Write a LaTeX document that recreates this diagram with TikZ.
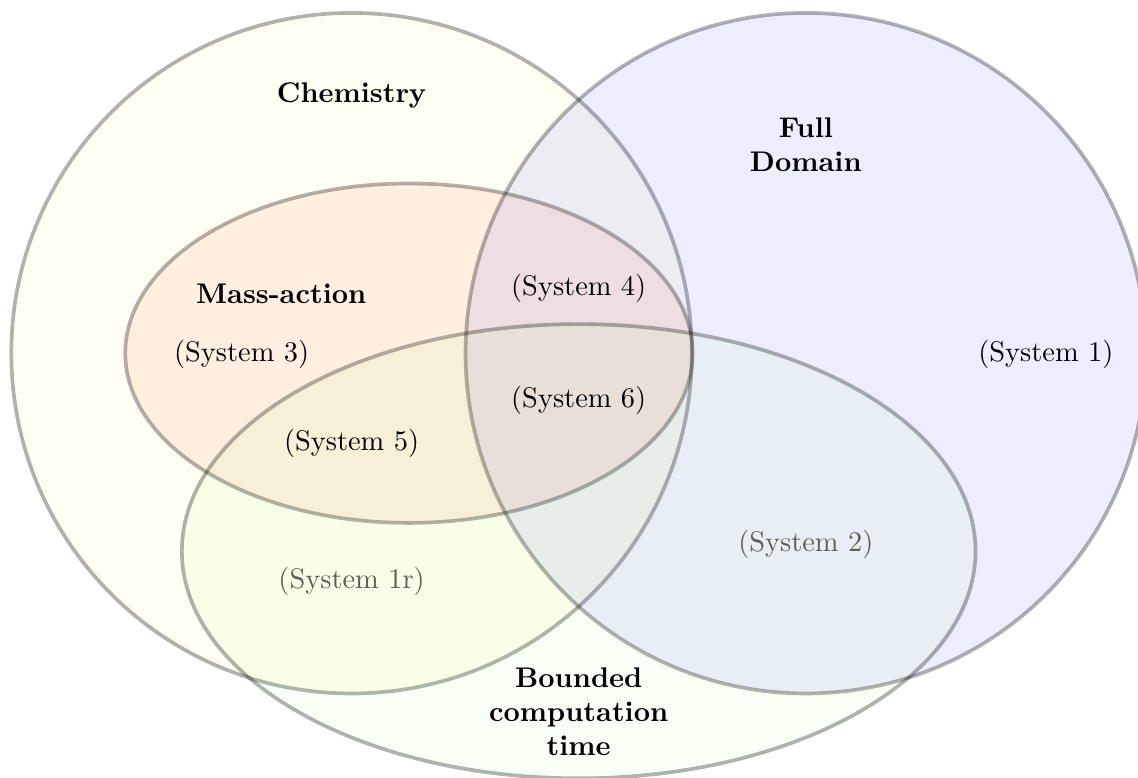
\documentclass[tikz,border=0pt]{standalone}
\usepackage{tikz}
\usetikzlibrary{positioning}

\begin{document}
\begin{tikzpicture}[
    set/.style={draw=black, draw opacity=0.3, line width=1.3pt},
    title/.style={font=\bfseries, align=center},
    sys/.style={inner sep=1pt}
  ]
          \useasboundingbox (0,0) rectangle (14.08,-9.62);
          \draw[set, fill=yellow, fill opacity=0.05] (4.35,-4.37) circle (4.21);
          \draw[set, fill=blue, fill opacity=0.07] (9.97,-4.37) circle (4.21);
          \draw[set, fill=red!75!orange, fill opacity=0.07] (5.06,-4.37) ellipse (3.51 and 2.10);
          \node[sys, text=black!65] (sys1r) at (4.35,-7.19) {(System 1r)};
          \node[sys, text=black!65] (sys2) at (9.97,-6.74) {(System 2)};
          \draw[set, fill=green!60!yellow, fill opacity=0.045] (7.16,-6.82) ellipse (4.91 and 2.81);
          \node[title] (chem) at (4.35,-1.18) {Chemistry};
          \node[title] (full) at (9.97,-1.79) {Full\\Domain};
          \node[title] (mass) at (3.48,-3.64) {Mass-action};
          \node[title] (bound) at (7.16,-8.81) {Bounded\\computation\\time};
          \node[sys] (sys1) at (12.94,-4.38) {(System 1)};
          \node[sys] (sys3) at (2.99,-4.38) {(System 3)};
          \node[sys] (sys4) at (7.16,-3.57) {(System 4)};
          \node[sys] (sys5) at (4.35,-5.49) {(System 5)};
          \node[sys] (sys6) at (7.16,-4.96) {(System 6)};
\end{tikzpicture}
\end{document}
